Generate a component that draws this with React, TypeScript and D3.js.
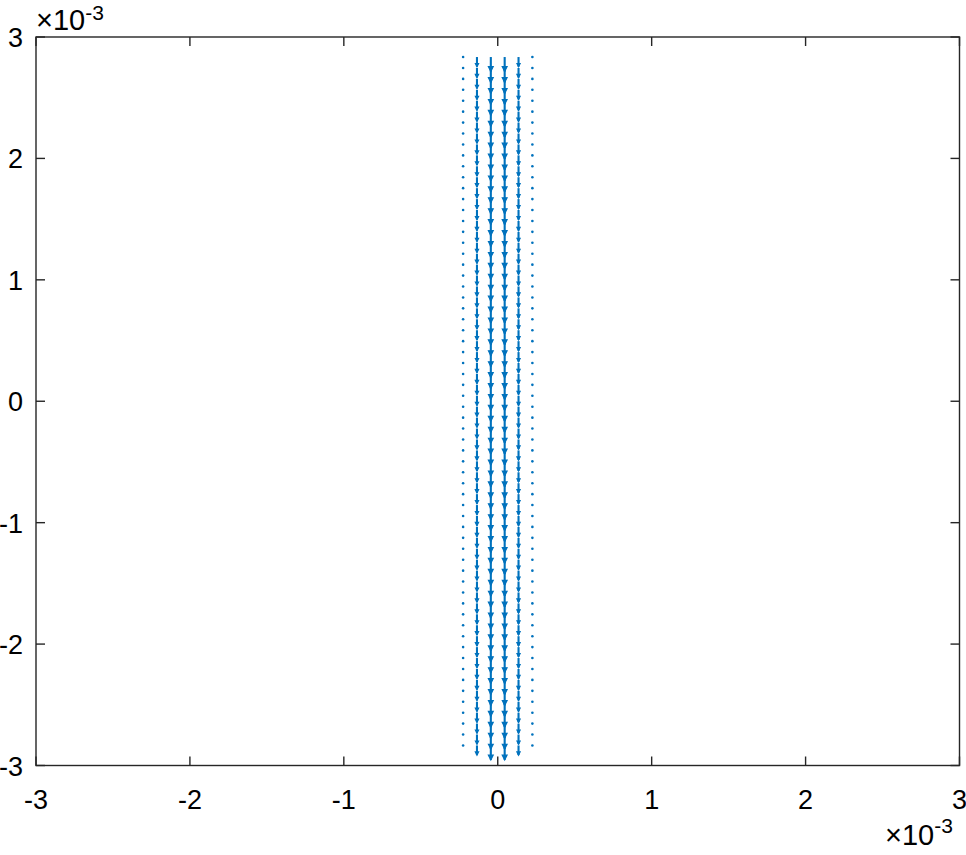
import React from "react";
import * as d3 from "d3";

// quiver grid (units of 1e-3)
const xColumns = [-0.225, -0.135, -0.045, 0.045, 0.135, 0.225];
const vColumns = [0, -0.0324, -0.0486, -0.0486, -0.0324, 0];
const uColumns = [0, 0, 0, 0, 0, 0];
const yRows = [
  2.835, 2.745, 2.655, 2.565, 2.475, 2.385, 2.295, 2.205, 2.115, 2.025,
  1.935, 1.845, 1.755, 1.665, 1.575, 1.485, 1.395, 1.305, 1.215, 1.125,
  1.035, 0.945, 0.855, 0.765, 0.675, 0.585, 0.495, 0.405, 0.315, 0.225,
  0.135, 0.045, -0.045, -0.135, -0.225, -0.315, -0.405, -0.495, -0.585, -0.675,
  -0.765, -0.855, -0.945, -1.035, -1.125, -1.215, -1.305, -1.395, -1.485, -1.575,
  -1.665, -1.755, -1.845, -1.935, -2.025, -2.115, -2.205, -2.295, -2.385, -2.475,
  -2.565, -2.655, -2.745, -2.835,
];
const xTicks = [-3, -2, -1, 0, 1, 2, 3];
const yTicks = [-3, -2, -1, 0, 1, 2, 3];
const xDomain = [-3, 3];
const yDomain = [-3, 3];

const W = 966;
const H = 855;
const left = 36;
const right = 959.5;
const top = 37;
const bottom = 765.5;
const arrowScale = 2.45; // autoscale factor for arrow length

const axisColor = "#262626";
const arrowColor = "#0072BD";
const font = "'Liberation Sans', Arial, Helvetica, sans-serif";
const fs = 27;

export default function App() {
  const x = d3.scaleLinear().domain(xDomain).range([left, right]);
  const y = d3.scaleLinear().domain(yDomain).range([bottom, top]);
  const tickLen = 9;

  const arrows: React.ReactNode[] = [];
  xColumns.forEach((cx, ci) => {
    const u = uColumns[ci] * arrowScale;
    const v = vColumns[ci] * arrowScale;
    yRows.forEach((cy, ri) => {
      const x0 = x(cx);
      const y0 = y(cy);
      const x1 = x(cx + u);
      const y1 = y(cy + v);
      const dx = x1 - x0;
      const dy = y1 - y0;
      const len = Math.hypot(dx, dy);
      const key = `${ci}-${ri}`;
      if (len < 0.5) {
        arrows.push(<circle key={key} cx={x0} cy={y0} r={1.3} fill={arrowColor} />);
        return;
      }
      const alpha = 0.33;
      const beta = 0.5;
      const hx1 = x1 - alpha * (dx + beta * dy);
      const hy1 = y1 - alpha * (dy - beta * dx);
      const hx2 = x1 - alpha * (dx - beta * dy);
      const hy2 = y1 - alpha * (dy + beta * dx);
      arrows.push(
        <g key={key}>
          <line x1={x0} y1={y0} x2={x1} y2={y1} stroke={arrowColor} strokeWidth={2.1} />
          <polygon
            points={`${hx1},${hy1} ${x1},${y1} ${hx2},${hy2}`}
            fill={arrowColor}
            stroke={arrowColor}
            strokeWidth={1.2}
            strokeLinejoin="miter"
          />
        </g>
      );
    });
  });

  return (
    <svg
      width={W}
      height={H}
      style={{ position: "absolute", left: 0, top: 0, background: "#fff" }}
      fontFamily={font}
    >
      <rect x={0} y={0} width={W} height={H} fill="#fff" />
      <g>{arrows}</g>
      {/* ticks */}
      {xTicks.map((t) => (
        <g key={`xt${t}`}>
          <line x1={x(t)} x2={x(t)} y1={bottom} y2={bottom - tickLen} stroke={axisColor} strokeWidth={1.4} />
          <line x1={x(t)} x2={x(t)} y1={top} y2={top + tickLen} stroke={axisColor} strokeWidth={1.4} />
          <text x={x(t)} y={809} textAnchor="middle" style={{ fontSize: `${fs}px` }} fill="#000">
            {t < 0 ? `-${-t}` : `${t}`}
          </text>
        </g>
      ))}
      {yTicks.map((t) => (
        <g key={`yt${t}`}>
          <line x1={left} x2={left + tickLen} y1={y(t)} y2={y(t)} stroke={axisColor} strokeWidth={1.4} />
          <line x1={right} x2={right - tickLen} y1={y(t)} y2={y(t)} stroke={axisColor} strokeWidth={1.4} />
          <text x={23} y={y(t) + 10} textAnchor="end" style={{ fontSize: `${fs}px` }} fill="#000">
            {t < 0 ? `-${-t}` : `${t}`}
          </text>
        </g>
      ))}
      <rect
        x={left}
        y={top}
        width={right - left}
        height={bottom - top}
        fill="none"
        stroke={axisColor}
        strokeWidth={1.4}
      />
      {/* exponent labels */}
      <text x={36} y={30} style={{ fontSize: "29px" }} fill="#000">
        ×10
        <tspan dy={-10} style={{ fontSize: "21px" }}>-3</tspan>
      </text>
      <text x={885} y={845} style={{ fontSize: "29px" }} fill="#000">
        ×10
        <tspan dy={-12} style={{ fontSize: "21px" }}>-3</tspan>
      </text>
    </svg>
  );
}
